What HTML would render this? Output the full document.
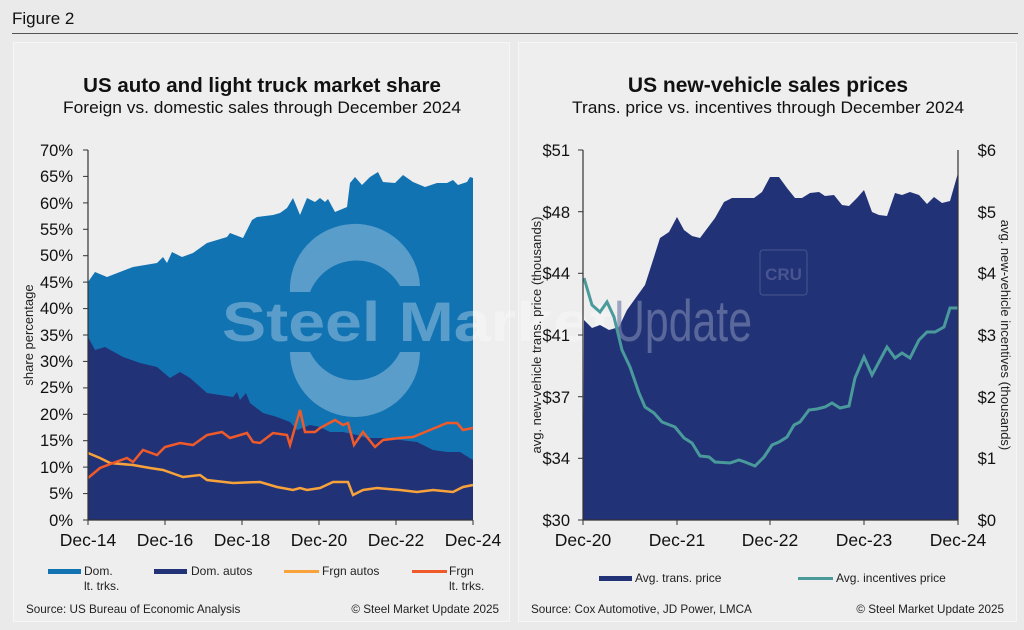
<!DOCTYPE html>
<html><head><meta charset="utf-8"><style>
html,body{margin:0;padding:0;background:#eaeaea;}
svg{display:block;font-family:"Liberation Sans",Arial,sans-serif;}
</style></head><body>
<svg width="1024" height="630" viewBox="0 0 1024 630" xmlns="http://www.w3.org/2000/svg">
<rect width="1024" height="630" fill="#eaeaea"/>
<text x="12" y="24" font-size="17" fill="#111">Figure 2</text>
<line x1="12" y1="33.5" x2="1018" y2="33.5" stroke="#555" stroke-width="1"/>
<rect x="13.5" y="42.5" width="496" height="579" fill="#eeeeee" stroke="#f6f6f6"/>
<rect x="518.5" y="42.5" width="498" height="579" fill="#eeeeee" stroke="#f6f6f6"/>

<!-- LEFT -->
<text x="262" y="92" font-size="20.5" font-weight="bold" text-anchor="middle" fill="#111">US auto and light truck market share</text>
<text x="262" y="113" font-size="16.5" text-anchor="middle" fill="#111" textLength="398" lengthAdjust="spacingAndGlyphs">Foreign vs. domestic sales through December 2024</text>
<polygon fill="#1273b3" points="88,520 88,282 95,272 107,277 133,267 157,263 163,257 167,263 172,252 182,257 193,253 207,243 227,237 230,233 243,238 252,220 257,217 273,215 280,213 287,208 293,198 300,215 307,198 315,202 320,198 325,202 328,199 335,212 347,207 350,183 355,177 362,185 370,177 378,172 383,182 395,183 403,175 413,182 425,187 437,183 447,183 453,180 458,185 467,182 470,177 473,178 473,520"/>
<polygon fill="#213277" points="88,520 88,337 95,350 105,347 123,357 140,363 157,367 170,378 180,372 190,378 207,393 220,395 233,397 237,392 240,400 246,393 250,403 263,413 277,417 290,422 297,430 310,425 320,427 330,432 343,432 357,435 367,438 383,438 400,440 417,442 433,450 447,452 460,452 473,460 473,520"/>
<polyline fill="none" stroke="#f7a23b" stroke-width="2.5" points="88,453 100,458 110,463 133,465 150,468 163,470 183,477 200,475 207,480 233,483 260,482 277,487 293,490 300,488 307,490 320,488 333,482 348,482 353,495 363,490 377,488 400,490 417,492 433,490 453,492 463,487 473,485"/>
<polyline fill="none" stroke="#ef5a2a" stroke-width="2.5" points="88,478 100,468 113,463 127,458 133,462 143,450 157,455 165,447 180,443 193,445 207,435 222,432 230,438 247,433 253,442 260,443 273,433 287,435 290,445 300,410 305,432 315,432 320,428 335,420 343,425 348,423 354,445 363,432 375,447 383,440 400,438 413,437 430,430 447,423 457,423 463,430 473,428"/>
<!-- watermark -->
<g opacity="0.3" fill="#ffffff">
<path d="M290,292 A65,65 0 0 1 420,286 L400,286 A50,50 0 0 0 310,292 Z"/>
<path d="M290,352 A65,65 0 0 0 420,352 L400,352 A50,50 0 0 1 310,352 Z"/>
<text x="222" y="341" font-size="56" font-weight="bold" textLength="390" lengthAdjust="spacingAndGlyphs">Steel Market</text>
</g>
<text x="614" y="341" font-size="58" fill="#8a93b8" opacity="0.55" textLength="138" lengthAdjust="spacingAndGlyphs">Update</text>
<g stroke="#333" stroke-width="1.2">
<line x1="88" y1="150" x2="88" y2="520"/><line x1="88" y1="520" x2="473" y2="520"/>
</g>
<g stroke="#333" stroke-width="1">
<line x1="83" y1="150" x2="88" y2="150"/><line x1="83" y1="176.4" x2="88" y2="176.4"/><line x1="83" y1="202.9" x2="88" y2="202.9"/><line x1="83" y1="229.3" x2="88" y2="229.3"/><line x1="83" y1="255.7" x2="88" y2="255.7"/><line x1="83" y1="282.1" x2="88" y2="282.1"/><line x1="83" y1="308.6" x2="88" y2="308.6"/><line x1="83" y1="335" x2="88" y2="335"/><line x1="83" y1="361.4" x2="88" y2="361.4"/><line x1="83" y1="387.9" x2="88" y2="387.9"/><line x1="83" y1="414.3" x2="88" y2="414.3"/><line x1="83" y1="440.7" x2="88" y2="440.7"/><line x1="83" y1="467.1" x2="88" y2="467.1"/><line x1="83" y1="493.6" x2="88" y2="493.6"/><line x1="83" y1="520" x2="88" y2="520"/>
<line x1="88" y1="520" x2="88" y2="525"/><line x1="165" y1="520" x2="165" y2="525"/><line x1="242" y1="520" x2="242" y2="525"/><line x1="319" y1="520" x2="319" y2="525"/><line x1="396" y1="520" x2="396" y2="525"/><line x1="473" y1="520" x2="473" y2="525"/>
</g>
<g font-size="16.5" fill="#111" text-anchor="end">
<text x="73" y="156">70%</text><text x="73" y="182">65%</text><text x="73" y="209">60%</text><text x="73" y="235">55%</text><text x="73" y="261">50%</text><text x="73" y="288">45%</text><text x="73" y="314">40%</text><text x="73" y="341">35%</text><text x="73" y="367">30%</text><text x="73" y="393">25%</text><text x="73" y="420">20%</text><text x="73" y="446">15%</text><text x="73" y="473">10%</text><text x="73" y="499">5%</text><text x="73" y="526">0%</text>
</g>
<text transform="translate(33,335) rotate(-90)" font-size="13" fill="#222" text-anchor="middle">share percentage</text>
<g font-size="17.5" fill="#111" text-anchor="middle">
<text x="88" y="546">Dec-14</text><text x="165" y="546">Dec-16</text><text x="242" y="546">Dec-18</text><text x="319" y="546">Dec-20</text><text x="396" y="546">Dec-22</text><text x="473" y="546">Dec-24</text>
</g>
<g font-size="12" fill="#222">
<rect x="48" y="569" width="33" height="5" fill="#1273b3"/><text x="84" y="575">Dom.</text><text x="84" y="590">lt. trks.</text>
<rect x="154" y="569" width="33" height="5" fill="#213277"/><text x="191" y="575">Dom. autos</text>
<rect x="284" y="570" width="35" height="3" fill="#f7a23b"/><text x="322" y="575">Frgn autos</text>
<rect x="412" y="570" width="35" height="3" fill="#ef5a2a"/><text x="449" y="575">Frgn</text><text x="449" y="590">lt. trks.</text>
</g>
<text x="26" y="613" font-size="11.7" fill="#222">Source: US Bureau of Economic Analysis</text>
<text x="499" y="613" font-size="11.7" fill="#222" text-anchor="end">© Steel Market Update 2025</text>

<!-- RIGHT -->
<polygon fill="#213277" points="583,520 584,320 592,328 600,325 609,330 619,327 627,310 645,285 654,257 660,238 669,232 677,217 684,230 692,236 700,238 715,218 724,202 732,198 739,198 754,198 762,192 770,177 779,177 787,188 795,198 802,198 810,193 819,192 825,196 834,195 842,205 849,206 857,198 864,190 872,212 879,215 887,216 895,193 902,195 910,192 919,195 927,204 934,197 942,203 950,201 958,173 958,520"/>
<text x="614" y="341" font-size="58" fill="#8a93b8" opacity="0.55" textLength="138" lengthAdjust="spacingAndGlyphs">Update</text>
<text x="768" y="92" font-size="21" font-weight="bold" text-anchor="middle" fill="#111">US new-vehicle sales prices</text>
<text x="768" y="113" font-size="16.5" text-anchor="middle" fill="#111" textLength="392" lengthAdjust="spacingAndGlyphs">Trans. price vs. incentives through December 2024</text>
<rect x="760" y="250" width="47" height="45" rx="3" fill="none" stroke="#4a5590" stroke-width="1"/>
<text x="783.5" y="280" font-size="17" font-weight="bold" fill="#4a5590" text-anchor="middle">CRU</text>
<polyline fill="none" stroke="#4a9a9c" stroke-width="3" points="584,278 592,305 600,312 607,302 614,317 622,350 630,367 639,393 645,407 654,413 662,422 675,427 684,438 692,443 700,456 709,457 715,462 730,463 739,460 745,462 755,466 764,457 772,445 779,442 787,437 794,425 800,422 809,410 817,409 825,407 832,403 840,408 849,406 855,378 864,357 872,375 880,360 887,347 895,358 902,353 910,358 919,340 927,332 935,332 944,327 950,308 958,308"/>
<g stroke="#333" stroke-width="1.2">
<line x1="583" y1="150" x2="583" y2="520"/><line x1="583" y1="520" x2="958" y2="520"/><line x1="958" y1="150" x2="958" y2="520"/>
</g>
<g stroke="#333" stroke-width="1">
<line x1="578" y1="150" x2="583" y2="150"/><line x1="578" y1="211.7" x2="583" y2="211.7"/><line x1="578" y1="273.3" x2="583" y2="273.3"/><line x1="578" y1="335" x2="583" y2="335"/><line x1="578" y1="396.7" x2="583" y2="396.7"/><line x1="578" y1="458.3" x2="583" y2="458.3"/><line x1="578" y1="520" x2="583" y2="520"/>
<line x1="583" y1="520" x2="583" y2="525"/><line x1="677" y1="520" x2="677" y2="525"/><line x1="770" y1="520" x2="770" y2="525"/><line x1="864" y1="520" x2="864" y2="525"/><line x1="958" y1="520" x2="958" y2="525"/>
</g>
<g font-size="16.5" fill="#111" text-anchor="end">
<text x="570" y="156">$51</text><text x="570" y="218">$48</text><text x="570" y="279">$44</text><text x="570" y="341">$41</text><text x="570" y="403">$37</text><text x="570" y="464">$34</text><text x="570" y="526">$30</text>
</g>
<g font-size="16.5" fill="#111" text-anchor="end">
<text x="996" y="156">$6</text><text x="996" y="218">$5</text><text x="996" y="279">$4</text><text x="996" y="341">$3</text><text x="996" y="403">$2</text><text x="996" y="464">$1</text><text x="996" y="526">$0</text>
</g>
<text transform="translate(541,335) rotate(-90)" font-size="13" fill="#222" text-anchor="middle">avg. new-vehicle trans. price (thousands)</text>
<text transform="translate(1001,335) rotate(90)" font-size="13" fill="#222" text-anchor="middle">avg. new-vehicle incentives (thousands)</text>
<g font-size="17.5" fill="#111" text-anchor="middle">
<text x="583" y="546">Dec-20</text><text x="677" y="546">Dec-21</text><text x="770" y="546">Dec-22</text><text x="864" y="546">Dec-23</text><text x="958" y="546">Dec-24</text>
</g>
<g font-size="12" fill="#222">
<rect x="599" y="576" width="33" height="5" fill="#213277"/><text x="635" y="582">Avg. trans. price</text>
<rect x="798" y="577" width="35" height="3" fill="#4a9a9c"/><text x="836" y="582">Avg. incentives price</text>
</g>
<text x="531" y="613" font-size="11.7" fill="#222">Source: Cox Automotive, JD Power, LMCA</text>
<text x="1004" y="613" font-size="11.7" fill="#222" text-anchor="end">© Steel Market Update 2025</text>
</svg>
</body></html>
